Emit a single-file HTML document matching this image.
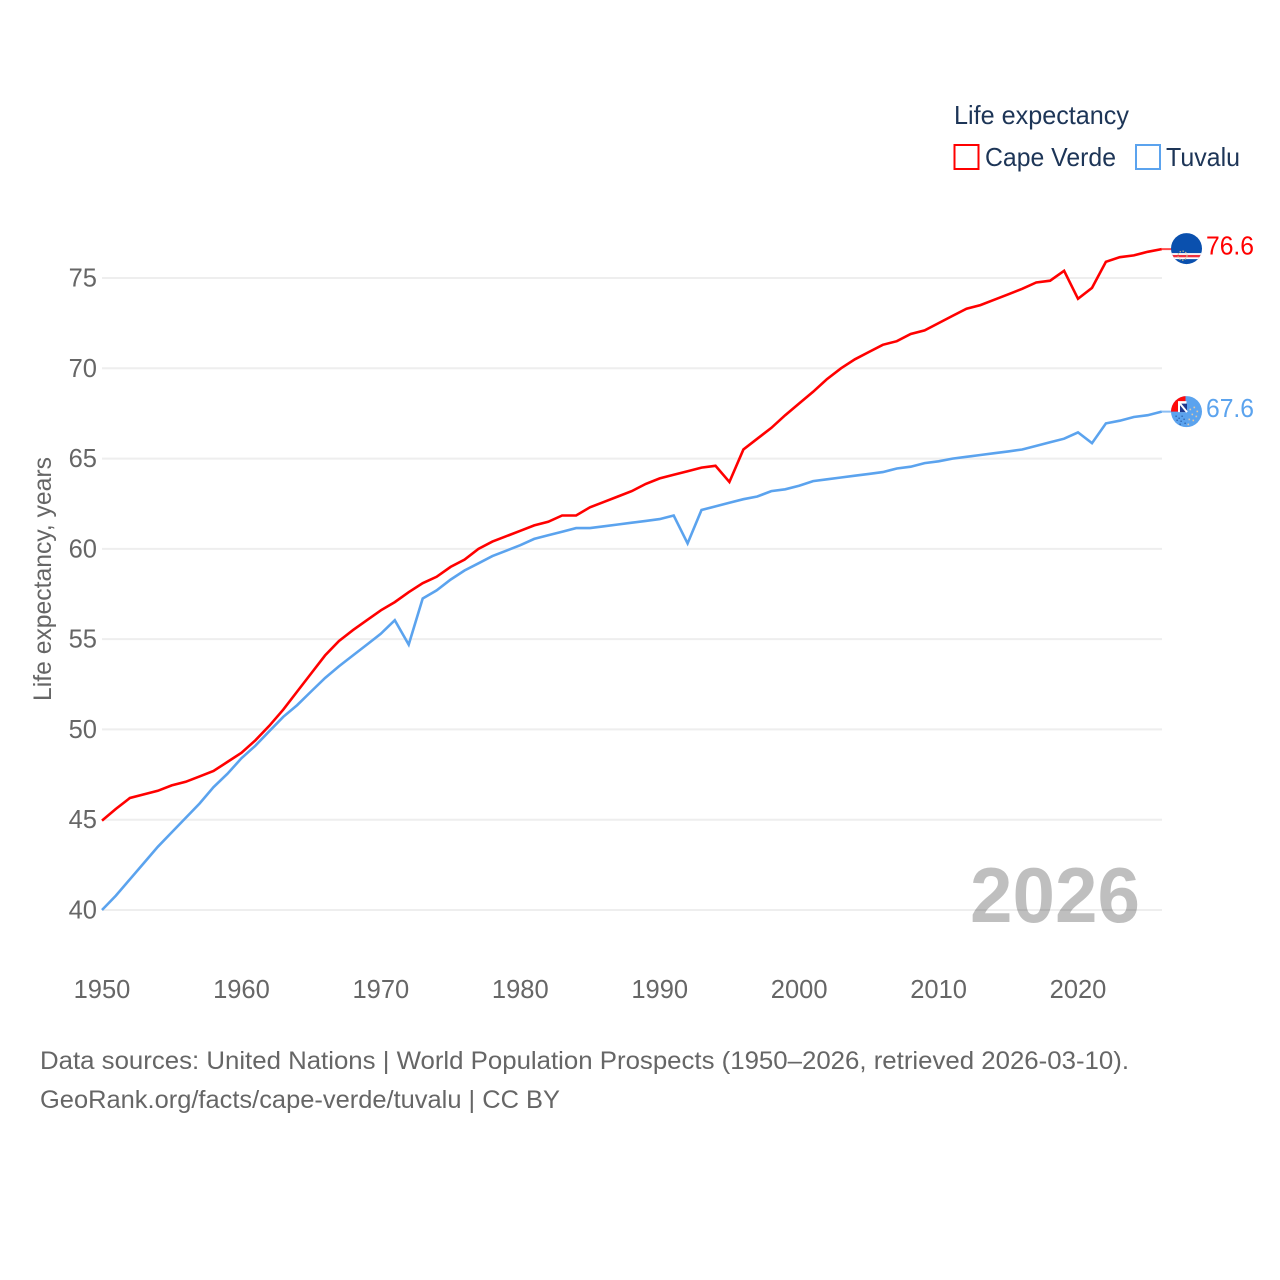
<!DOCTYPE html>
<html>
<head>
<meta charset="utf-8">
<title>Life expectancy: Cape Verde vs Tuvalu</title>
<style>
  html,body{margin:0;padding:0;background:#fff;}
  svg{display:block;}
  text{font-family:"Liberation Sans",sans-serif;}
</style>
</head>
<body>
<svg id="chart" xmlns="http://www.w3.org/2000/svg" width="1280" height="1280" viewBox="0 0 1280 1280">
  <defs>
    <clipPath id="flag-clip"><circle cx="0" cy="0" r="15.5"></circle></clipPath>
  </defs>
  <rect x="0" y="0" width="1280" height="1280" fill="#ffffff"></rect>
  <g id="grid"></g>
  <g id="yticks"></g>
  <g id="xticks"></g>
  <text transform="translate(51,701) rotate(-90)" font-size="25" fill="#666666" textLength="244" lengthAdjust="spacingAndGlyphs">Life expectancy, years</text>
  <text x="970" y="922" font-size="78" font-weight="bold" fill="#000000" fill-opacity="0.25" textLength="170" lengthAdjust="spacingAndGlyphs">2026</text>
  <g id="series"></g>
  <g id="ends"></g>

  <g>
    <text x="954" y="124" font-size="26" fill="#1d3557" textLength="175" lengthAdjust="spacingAndGlyphs">Life expectancy</text>
    <g>
      <rect x="954.5" y="145" width="24" height="24" fill="none" stroke="#ff0000" stroke-width="2"></rect>
      <text x="985" y="166" font-size="26" fill="#1d3557" textLength="131" lengthAdjust="spacingAndGlyphs">Cape Verde</text>
    </g>
    <g>
      <rect x="1136" y="145" width="24" height="24" fill="none" stroke="#5ba3ee" stroke-width="2"></rect>
      <text x="1166" y="166" font-size="26" fill="#1d3557" textLength="74" lengthAdjust="spacingAndGlyphs">Tuvalu</text>
    </g>
  </g>

  <text x="40" y="1069" font-size="25" fill="#666666" textLength="1089" lengthAdjust="spacingAndGlyphs">Data sources: United Nations | World Population Prospects (1950–2026, retrieved 2026-03-10).</text>
  <text x="40" y="1108" font-size="25" fill="#666666" textLength="520" lengthAdjust="spacingAndGlyphs">GeoRank.org/facts/cape-verde/tuvalu | CC BY</text>
</svg>

<script>
const startYear = 1950;
const yTickValues = [40, 45, 50, 55, 60, 65, 70, 75];
const xTickValues = [1950, 1960, 1970, 1980, 1990, 2000, 2010, 2020];
const capeVerdeValues = [
  44.95,45.6,46.2,46.4,46.6,46.9,47.1,47.4,47.7,48.2,
  48.7,49.4,50.2,51.1,52.1,53.1,54.1,54.9,55.5,56.05,
  56.6,57.05,57.6,58.1,58.45,59.0,59.4,60.0,60.4,60.7,
  61.0,61.3,61.5,61.85,61.85,62.3,62.6,62.9,63.2,63.6,
  63.9,64.1,64.3,64.5,64.6,63.7,65.5,66.1,66.7,67.4,
  68.05,68.7,69.4,70.0,70.5,70.9,71.3,71.5,71.9,72.1,
  72.5,72.9,73.3,73.5,73.8,74.1,74.4,74.75,74.85,75.4,
  73.85,74.45,75.9,76.15,76.25,76.45,76.6
];
const tuvaluValues = [
  40.0,40.8,41.7,42.6,43.5,44.3,45.1,45.9,46.8,47.55,
  48.4,49.1,49.9,50.7,51.35,52.1,52.85,53.5,54.1,54.7,
  55.3,56.05,54.7,57.25,57.7,58.3,58.8,59.2,59.6,59.9,
  60.2,60.55,60.75,60.95,61.15,61.15,61.25,61.35,61.45,61.55,
  61.65,61.85,60.3,62.15,62.35,62.55,62.75,62.9,63.2,63.3,
  63.5,63.75,63.85,63.95,64.05,64.15,64.25,64.45,64.55,64.75,
  64.85,65.0,65.1,65.2,65.3,65.4,65.5,65.7,65.9,66.1,
  66.45,65.85,66.95,67.1,67.3,67.4,67.6
];

const NS = 'http://www.w3.org/2000/svg';
const plotLeft = 102, plotRight = 1162;
function xScale(year){ return 102 + (year - 1950) * 13.943; }
function yScale(value){ return 910 - (value - 40) * 18.057; }
function make(tag, attrs, parent, content){
  const el = document.createElementNS(NS, tag);
  for (const k in attrs) el.setAttribute(k, attrs[k]);
  if (content !== undefined) el.textContent = content;
  parent.appendChild(el);
  return el;
}
const gridG = document.getElementById('grid');
const yG = document.getElementById('yticks');
const xG = document.getElementById('xticks');
const seriesG = document.getElementById('series');
const endsG = document.getElementById('ends');

yTickValues.forEach(function(v){
  const line = make('line', {x1: plotLeft, x2: plotRight, y1: yScale(v), y2: yScale(v), stroke: '#eeeeee', 'stroke-width': 2}, gridG);
  
  
  const t = make('text', {x: 97, y: yScale(v) + 8.5, 'text-anchor': 'end', 'font-size': 25.5, fill: '#666666'}, yG, String(v));
  
  
});
xTickValues.forEach(function(v){
  const t = make('text', {x: xScale(v), y: 998, 'text-anchor': 'middle', 'font-size': 25.5, fill: '#666666'}, xG, String(v));
  
  
});

function drawSeries(values, color){
  const pts = values.map(function(v, i){ return xScale(startYear + i).toFixed(1) + ',' + yScale(v).toFixed(1); }).join(' ');
  const line = make('polyline', {points: pts, fill: 'none', stroke: color, 'stroke-width': 2.6, 'stroke-linejoin': 'miter'}, seriesG);
  
  
  const lastYear = startYear + values.length - 1;
  const lastV = values[values.length - 1];
  const conn = make('line', {x1: xScale(lastYear), x2: 1172, y1: yScale(lastV), y2: yScale(lastV), stroke: color, 'stroke-width': 2, opacity: 0.7}, seriesG);
  
  
  const label = make('text', {x: 1206, y: yScale(lastV) + 5.5, 'font-size': 26, fill: color, textLength: 48, lengthAdjust: 'spacingAndGlyphs'}, endsG, lastV.toFixed(1));
  
  
  return yScale(lastV);
}

function capeVerdeFlag(cy){
  const g = make('g', {transform: 'translate(1186.5,' + (cy - 0.5) + ')', 'clip-path': 'url(#flag-clip)'}, endsG);
  
  
  make('rect', {x: -16, y: -16, width: 32, height: 32, fill: '#0a50ae'}, g);
  make('rect', {x: -16, y: 4.5, width: 32, height: 6, fill: '#ffffff'}, g);
  make('rect', {x: -16, y: 6.3, width: 32, height: 2.4, fill: '#f0303f'}, g);
  make('circle', {cx: -4, cy: 7, r: 4.5, fill: 'none', stroke: '#c9b98a', 'stroke-width': 1.2, 'stroke-dasharray': '1.5 1.5'}, g);
}
const tuvaluDarkDots = [[-11,4],[-8,6],[-5,4],[-10,8],[-6,9],[-3,7],[-2,11],[-7,12]];
const tuvaluPaleDots = [[3,-3],[7,-5],[10,-1],[5,2],[9,4],[2,7],[6,8],[1,12]];
function tuvaluFlag(cy){
  const g = make('g', {transform: 'translate(1186.5,' + cy + ')', 'clip-path': 'url(#flag-clip)'}, endsG);
  
  
  make('rect', {x: -16, y: -16, width: 32, height: 32, fill: '#5ba3ee'}, g);
  make('rect', {x: -16, y: -16, width: 15, height: 16, fill: '#ff0a0a'}, g);
  make('rect', {x: -8.5, y: -10.5, width: 8.5, height: 11, fill: '#ffffff'}, g);
  make('rect', {x: -6.5, y: -8, width: 7, height: 8.5, fill: '#1f3a8f'}, g);
  make('line', {x1: -6.5, y1: -8, x2: 0.5, y2: 0.5, stroke: '#ffffff', 'stroke-width': 2}, g);
  tuvaluDarkDots.forEach(function(d){
    make('rect', {x: d[0], y: d[1], width: 1.2, height: 1.2, fill: '#1f4f96'}, g);
  });
  tuvaluPaleDots.forEach(function(d){
    make('rect', {x: d[0], y: d[1], width: 1.6, height: 1.6, fill: '#e0c8a8'}, g);
  });
}

const cvY = drawSeries(capeVerdeValues, '#ff0000');
const tvY = drawSeries(tuvaluValues, '#5ba3ee');
capeVerdeFlag(cvY);
tuvaluFlag(tvY);
</script>
</body>
</html>
